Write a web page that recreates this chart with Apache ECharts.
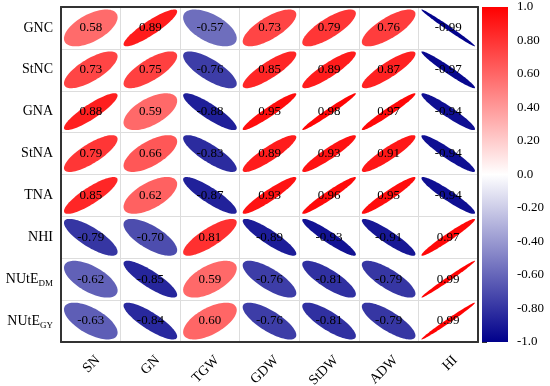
<!DOCTYPE html>
<html><head><meta charset="utf-8">
<script src="https://cdn.jsdelivr.net/npm/echarts@6/dist/echarts.min.js"></script>
<style>html,body{margin:0;padding:0;background:#fff}#c{width:550px;height:386px}</style>
</head><body><div id="c"></div>
<script>
const colLabels = ['SN','GN','TGW','GDW','StDW','ADW','HI'];
const rowLabels = ['GNC','StNC','GNA','StNA','TNA','NHI','NUtE_DM','NUtE_GY'];
const rGNC    = [0.58, 0.89, -0.57, 0.73, 0.79, 0.76, -0.99];
const rStNC   = [0.73, 0.75, -0.76, 0.85, 0.89, 0.87, -0.97];
const rGNA    = [0.88, 0.59, -0.88, 0.95, 0.98, 0.97, -0.94];
const rStNA   = [0.79, 0.66, -0.83, 0.89, 0.93, 0.91, -0.94];
const rTNA    = [0.85, 0.62, -0.87, 0.93, 0.96, 0.95, -0.94];
const rNHI    = [-0.79, -0.70, 0.81, -0.89, -0.93, -0.91, 0.97];
const rNUtEDM = [-0.62, -0.85, 0.59, -0.76, -0.81, -0.79, 0.99];
const rNUtEGY = [-0.63, -0.84, 0.60, -0.76, -0.81, -0.79, 0.99];
const colorStops = ['#00008B', '#FFFFFF', '#FF0000'];
const cbMin = -1, cbMax = 1, cbStep = 0.2;

const rows = [rGNC, rStNC, rGNA, rStNA, rTNA, rNHI, rNUtEDM, rNUtEGY];
const data = [];
rows.forEach((row, i) => row.forEach((v, j) => data.push([j, i, v])));

const serif = '"Liberation Serif","Times New Roman",serif';
const frame = { show: true, lineStyle: { color: '#333', width: 2 } };

function renderEllipse(params, api) {
  const c = api.coord([api.value(0), api.value(1)]);
  const s = api.size([1, 1]);
  const r = api.value(2);
  const a = Math.acos(r) / 2;
  const sx = s[0] * 0.9, sy = s[1] * 0.88;
  const pts = [];
  const N = 90;
  for (let k = 0; k < N; k++) {
    const t = 2 * Math.PI * k / N;
    pts.push([c[0] + Math.cos(t + a) / 2 * sx, c[1] - Math.cos(t - a) / 2 * sy]);
  }
  return {
    type: 'group',
    children: [
      { type: 'polygon', shape: { points: pts }, style: { fill: api.visual('color'), stroke: null } },
      { type: 'text', x: c[0], y: c[1], style: { text: r.toFixed(2), align: 'center', verticalAlign: 'middle', fontSize: 13, fontFamily: serif, fill: '#000' } }
    ]
  };
}

function renderBar(params, api) {
  const p0 = api.coord([0, cbMax]);
  const p1 = api.coord([1, cbMin]);
  return {
    type: 'rect',
    shape: { x: p0[0], y: p0[1], width: p1[0] - p0[0], height: p1[1] - p0[1] },
    style: {
      fill: new echarts.graphic.LinearGradient(0, 0, 0, 1, [
        { offset: 0, color: colorStops[2] },
        { offset: 0.5, color: colorStops[1] },
        { offset: 1, color: colorStops[0] }
      ])
    }
  };
}

const chart = echarts.init(document.getElementById('c'), null, { renderer: 'canvas' });
chart.setOption({
  animation: false,
  backgroundColor: '#fff',
  grid: [
    { left: 61, top: 7, width: 417, height: 335, outerBoundsMode: 'none', containLabel: false },
    { left: 482, top: 7, width: 26, height: 335, outerBoundsMode: 'none', containLabel: false }
  ],
  xAxis: [
    {
      type: 'category', data: colLabels, gridIndex: 0, position: 'bottom',
      axisLine: frame, axisTick: { show: false },
      splitLine: { show: true, lineStyle: { color: '#dddddd', width: 1 } },
      axisLabel: { rotate: 45, fontSize: 14, fontFamily: serif, color: '#000', margin: 9, verticalAlign: 'top', lineHeight: 20, interval: 0 }
    },
    { type: 'value', gridIndex: 1, min: 0, max: 1, show: false },
    {
      type: 'category', data: colLabels, gridIndex: 0, position: 'top',
      axisLine: frame, axisTick: { show: false }, axisLabel: { show: false }, splitLine: { show: false }
    }
  ],
  yAxis: [
    {
      type: 'category', data: rowLabels, gridIndex: 0, inverse: true, position: 'left',
      axisLine: frame, axisTick: { show: false },
      splitLine: { show: true, lineStyle: { color: '#dddddd', width: 1 } },
      axisLabel: {
        fontSize: 14, fontFamily: serif, color: '#000', margin: 8, interval: 0,
        formatter: v => { const p = v.split('_'); return p.length > 1 ? p[0] + '{s|' + p[1] + '}' : p[0]; },
        rich: { s: { fontSize: 9, fontFamily: serif, color: '#000', padding: [9, 0, 0, 0] } }
      }
    },
    {
      type: 'value', gridIndex: 1, min: cbMin, max: cbMax, interval: cbStep, position: 'right',
      axisLine: { show: false },
      axisTick: { show: true, length: 5, lineStyle: { color: '#333', width: 1 } },
      splitLine: { show: false },
      axisLabel: {
        fontSize: 13, fontFamily: serif, color: '#000', margin: 9,
        formatter: v => { const r = Math.round(v * 10) / 10; if (Math.abs(r) === 1 || r === 0) return (r === 0 ? 0 : r).toFixed(1); return r.toFixed(2); }
      }
    },
    {
      type: 'category', data: rowLabels, gridIndex: 0, inverse: true, position: 'right',
      axisLine: frame, axisTick: { show: false }, axisLabel: { show: false }, splitLine: { show: false }
    }
  ],
  visualMap: {
    type: 'continuous', show: false, min: cbMin, max: cbMax, dimension: 2, seriesIndex: 0,
    inRange: { color: colorStops }
  },
  series: [
    { type: 'custom', xAxisIndex: 0, yAxisIndex: 0, data: data, renderItem: renderEllipse, z: 3 },
    { type: 'custom', xAxisIndex: 1, yAxisIndex: 1, data: [[0]], renderItem: renderBar }
  ]
});
</script>
</body></html>
